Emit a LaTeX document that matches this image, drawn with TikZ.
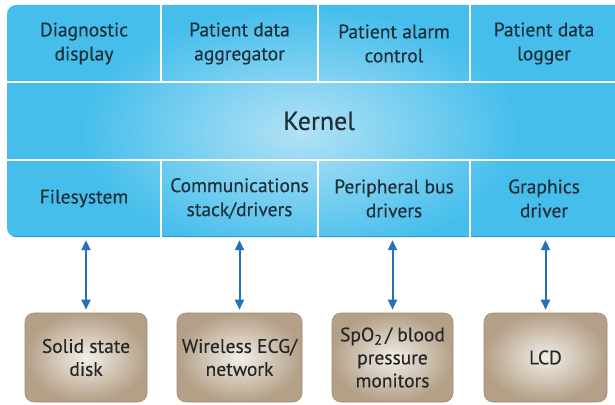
\documentclass[tikz,border=0pt]{standalone}
\usepackage{fontspec}
\setmainfont{PT Sans}[FakeBold=0.35]
\usetikzlibrary{arrows.meta}
\definecolor{panelblue}{HTML}{45BEEC}
\definecolor{glowblue}{HTML}{B2E2F5}
\definecolor{panelink}{HTML}{1E2F3A}
\definecolor{tanedge}{HTML}{B3A087}
\definecolor{tancore}{HTML}{F2EEE8}
\definecolor{tanline}{HTML}{9E8A6E}
\definecolor{linkblue}{HTML}{2271B9}
\tikzset{
  cell/.style={inner sep=0pt, align=center, text=panelink,
    font=\fontsize{19.5}{24}\selectfont, minimum height=77pt},
  device/.style={rounded corners=9pt, draw=tanline, line width=0.6pt,
    inner color=tancore, outer color=tanedge, align=center,
    minimum height=89pt, inner sep=0pt, text=black!85,
    font=\fontsize{19.5}{23}\selectfont},
  divider/.style={white, line width=2pt},
  biarrow/.style={linkblue, line width=2pt,
    {Triangle[length=10pt,width=9pt]}-{Triangle[length=10pt,width=9pt]},
    shorten <=3pt, shorten >=3pt}
}
\begin{document}
\begin{tikzpicture}[x=1pt,y=-1pt]
\useasboundingbox (0,0) rectangle (615,404);
\begin{scope}
  \clip (0,0) rectangle (615,404);
  % kernel panel with rounded left corners, running off the right edge
  \fill[panelblue, rounded corners=9pt] (640,5) -- (7,5) -- (7,237) -- (640,237) -- cycle;
  \begin{scope}
    \clip[rounded corners=9pt] (640,5) -- (7,5) -- (7,237) -- (640,237) -- cycle;
    \shade[inner color=glowblue, outer color=panelblue] (300,132) ellipse (220pt and 125pt);
    \draw[panelblue!80!black, line width=0.8pt] (7,236.6) -- (640,236.6);
  \end{scope}
  % white dividers between the cells
  \draw[divider] (7,82) -- (615,82);
  \draw[divider] (7,160) -- (615,160);
  \foreach \x in {161,318,470} {
    \draw[divider] (\x,5) -- (\x,82);
    \draw[divider] (\x,160) -- (\x,237);
  }
\end{scope}

% application row
\node[cell, minimum width=154pt] (diag) at (84,43.5) {Diagnostic\\display};
\node[cell, minimum width=157pt] (aggr) at (239.5,43.5) {Patient data\\aggregator};
\node[cell, minimum width=152pt] (alarm) at (394,43.5) {Patient alarm\\control};
\node[cell, minimum width=145pt] (logger) at (544,43.5) {Patient data\\logger};

% kernel row
\node[cell, font=\fontsize{26}{30}\selectfont] (kernel) at (319,121) {Kernel};

% driver row
\node[cell, minimum width=154pt] (fs) at (84,198.5) {Filesystem};
\node[cell, minimum width=157pt] (comm) at (239.5,198.5) {Communications\\stack/drivers};
\node[cell, minimum width=152pt] (pbus) at (394,198.5) {Peripheral bus\\drivers};
\node[cell, minimum width=145pt] (gfx) at (544,198.5) {Graphics\\driver};

% hardware devices
\node[device, minimum width=122pt] (ssd) at (86,357.5) {Solid state\\disk};
\node[device, minimum width=125pt] (ecg) at (239.5,357.5) {Wireless ECG/\\network};
\node[device, minimum width=121pt] (spo) at (392.5,357.5)
  {SpO\raisebox{-0.35ex}{\fontsize{14}{14}\selectfont 2}\,/ blood\\pressure\\monitors};
\node[device, minimum width=123pt] (lcd) at (545.5,357.5) {LCD};

% links between drivers and devices
\draw[biarrow] (ssd.north |- fs.south) -- (ssd.north);
\draw[biarrow] (ecg.north |- comm.south) -- (ecg.north);
\draw[biarrow] (spo.north |- pbus.south) -- (spo.north);
\draw[biarrow] (lcd.north |- gfx.south) -- (lcd.north);
\end{tikzpicture}
\end{document}
